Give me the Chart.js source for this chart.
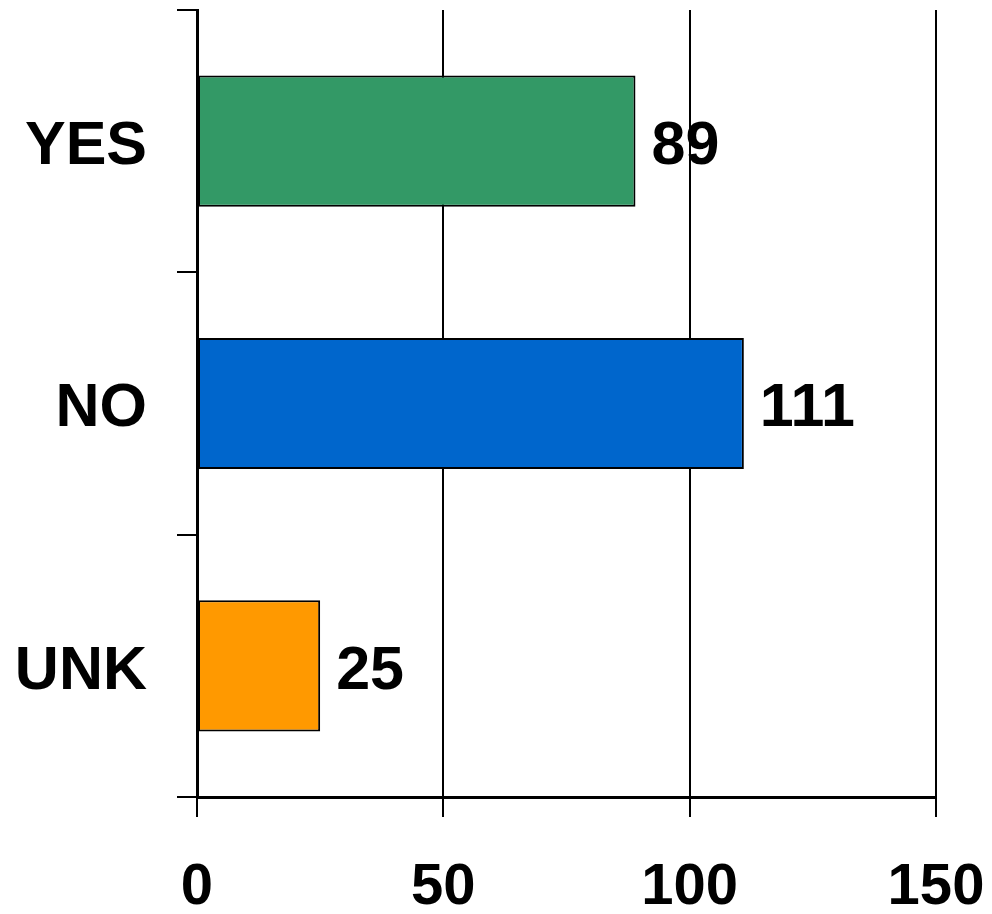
<!DOCTYPE html>
<html>
<head>
<meta charset="utf-8">
<script src="https://cdn.jsdelivr.net/npm/chart.js@4"></script>
<style>
  html, body { margin: 0; padding: 0; background: #fff; }
  #wrap { width: 992px; height: 914px; }
</style>
</head>
<body>
<div id="wrap"><canvas id="answers-chart" width="992" height="914"></canvas></div>
<script>
const categories = ["YES", "NO", "UNK"];
const counts = [89, 111, 25];
const barColors = ["#339966", "#0066CC", "#FF9900"];
const xTicks = [0, 50, 100, 150];

const FAMILY = "'Liberation Sans', Arial, sans-serif";
const LABEL_FONT = { family: FAMILY, size: 61, weight: "bold" };
const TICK_FONT = { family: FAMILY, size: 58, weight: "bold" };

// writes the count just past the end of each bar
const valueLabels = {
  id: "valueLabels",
  afterDatasetsDraw(chart) {
    const ctx = chart.ctx;
    const meta = chart.getDatasetMeta(0);
    ctx.save();
    ctx.font = `bold ${LABEL_FONT.size}px ${FAMILY}`;
    ctx.fillStyle = "#000";
    ctx.textAlign = "left";
    ctx.textBaseline = "middle";
    meta.data.forEach((bar, i) => {
      ctx.fillText(String(counts[i]), bar.x + 16, bar.y + 6);
    });
    ctx.restore();
  },
};

// keep the axes from reserving extra room for their labels
function noScalePadding(scale) {
  scale.paddingTop = 0;
  scale.paddingBottom = 0;
  scale.paddingLeft = 0;
  scale.paddingRight = 0;
}

const canvas = document.getElementById("answers-chart");

new Chart(canvas, {
  type: "bar",
  data: {
    labels: categories,
    datasets: [
      {
        data: counts,
        backgroundColor: barColors,
        borderColor: "#000",
        borderWidth: 2,
        borderSkipped: false,
        categoryPercentage: 1,
        barPercentage: 0.5,
      },
    ],
  },
  options: {
    indexAxis: "y",
    responsive: false,
    animation: false,
    layout: { padding: { top: 10, right: 56, left: 0, bottom: 0 } },
    plugins: {
      legend: { display: false },
      tooltip: { enabled: false },
    },
    scales: {
      x: {
        type: "linear",
        min: 0,
        max: 150,
        afterBuildTicks: (scale) => {
          scale.ticks = xTicks.map(v => ({ value: v }));
        },
        afterFit: (scale) => {
          scale.height = 117;
          noScalePadding(scale);
        },
        grid: {
          color: "#000",
          lineWidth: 2,
          tickLength: 20,
          drawOnChartArea: true,
        },
        border: { color: "#000", width: 3 },
        ticks: {
          color: "#000",
          font: TICK_FONT,
          padding: 36,
          maxRotation: 0,
        },
      },
      y: {
        afterFit: (scale) => {
          scale.width = 197;
          noScalePadding(scale);
        },
        grid: {
          color: "#000",
          lineWidth: 2,
          tickLength: 20,
          offset: true,
          drawOnChartArea: false,
        },
        border: { color: "#000", width: 3 },
        ticks: {
          color: "#000",
          font: LABEL_FONT,
          padding: 30,
          labelOffset: 6,
        },
      },
    },
  },
  plugins: [valueLabels],
});
</script>
</body>
</html>
